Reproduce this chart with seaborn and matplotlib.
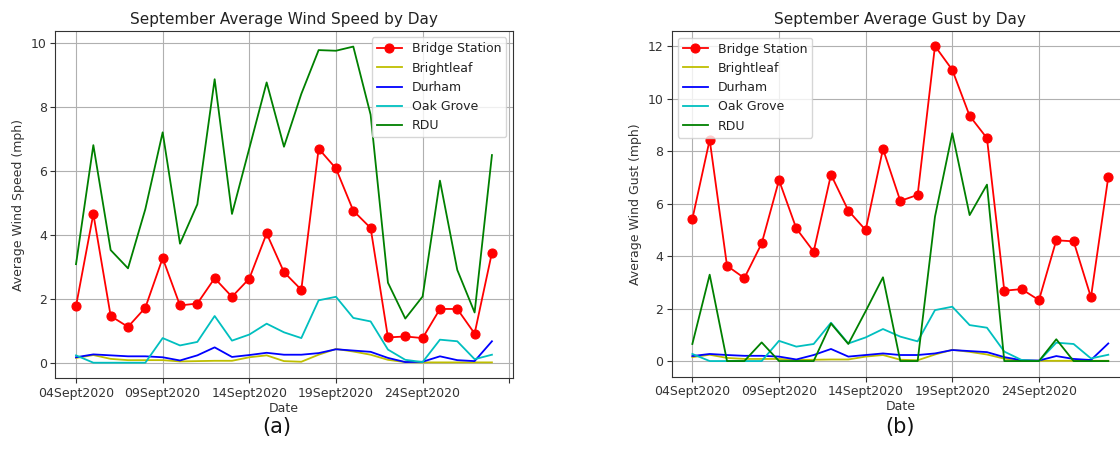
import numpy as np
import pandas as pd
import matplotlib
matplotlib.use("Agg")
import matplotlib.pyplot as plt
import seaborn as sns

# ---- data -------------------------------------------------------------
days = list(range(4, 29))  # 04 Sept .. 28 Sept 2020
dates = [f"{d:02d}Sept2020" for d in days]
tick_pos = [0, 5, 10, 15, 20, 25]
tick_labels = ["04Sept2020", "09Sept2020", "14Sept2020", "19Sept2020", "24Sept2020", ""]

stations = ["Bridge Station", "Brightleaf", "Durham", "Oak Grove", "RDU"]
colors = ["r", "y", "b", "c", "g"]

# (a) average wind speed (mph)
speed_bridge = [1.77, 4.65, 1.46, 1.12, 1.72, 3.27, 1.79, 1.85, 2.64, 2.06, 2.63, 4.04, 2.83,
                2.28, 6.69, 6.07, 4.75, 4.21, 0.79, 0.82, 0.77, 1.68, 1.68, 0.91, 3.44]
speed_brightleaf = [0.15, 0.24, 0.12, 0.08, 0.08, 0.08, 0.04, 0.05, 0.06, 0.06, 0.17, 0.23, 0.05,
                    0.03, 0.25, 0.43, 0.35, 0.25, 0.09, 0.02, 0.01, 0.01, 0.01, 0.01, 0.01]
speed_durham = [0.17, 0.26, 0.23, 0.20, 0.20, 0.17, 0.07, 0.23, 0.48, 0.18, 0.24, 0.31, 0.25,
                0.25, 0.30, 0.42, 0.38, 0.34, 0.15, 0.02, 0.03, 0.20, 0.08, 0.05, 0.67]
speed_oak = [0.23, 0.0, 0.0, 0.0, 0.0, 0.77, 0.54, 0.65, 1.46, 0.69, 0.88, 1.22, 0.95,
             0.77, 1.95, 2.06, 1.40, 1.29, 0.41, 0.09, 0.02, 0.72, 0.67, 0.11, 0.25]
speed_rdu = [3.08, 6.80, 3.52, 2.95, 4.80, 7.20, 3.72, 4.95, 8.86, 4.65, 6.70, 8.76, 6.75,
             8.40, 9.77, 9.75, 9.88, 7.75, 2.50, 1.38, 2.07, 5.69, 2.90, 1.57, 6.49]

# (b) average wind gust (mph)
gust_bridge = [5.41, 8.43, 3.63, 3.16, 4.48, 6.89, 5.05, 4.17, 7.10, 5.73, 4.99, 8.08, 6.10,
               6.33, 12.0, 11.09, 9.34, 8.49, 2.68, 2.74, 2.32, 4.60, 4.56, 2.43, 7.01]
gust_brightleaf = [0.15, 0.24, 0.12, 0.08, 0.08, 0.08, 0.04, 0.05, 0.06, 0.06, 0.17, 0.23, 0.05,
                   0.03, 0.25, 0.43, 0.35, 0.25, 0.09, 0.02, 0.01, 0.01, 0.01, 0.01, 0.01]
gust_durham = [0.19, 0.27, 0.23, 0.20, 0.20, 0.17, 0.06, 0.23, 0.46, 0.17, 0.23, 0.29, 0.23,
               0.23, 0.29, 0.42, 0.38, 0.34, 0.15, 0.03, 0.02, 0.19, 0.08, 0.04, 0.67]
gust_oak = [0.27, 0.0, 0.0, 0.0, 0.0, 0.77, 0.55, 0.65, 1.46, 0.67, 0.90, 1.22, 0.93,
            0.75, 1.94, 2.07, 1.37, 1.27, 0.36, 0.04, 0.0, 0.70, 0.65, 0.10, 0.24]
gust_rdu = [0.65, 3.29, 0.0, 0.0, 0.71, 0.0, 0.0, 0.0, 1.43, 0.65, 1.90, 3.19, 0.0,
            0.0, 5.50, 8.68, 5.56, 6.72, 0.0, 0.0, 0.0, 0.83, 0.0, 0.0, 0.0]

speed_series = [speed_bridge, speed_brightleaf, speed_durham, speed_oak, speed_rdu]
gust_series = [gust_bridge, gust_brightleaf, gust_durham, gust_oak, gust_rdu]

# ---- figure -----------------------------------------------------------
plt.rcParams['font.family'] = ['DejaVu Sans']
fig = plt.figure(figsize=(11.2, 4.66), dpi=100)
ax_a = fig.add_axes([0.0493, 0.188, 0.4085, 0.745])
ax_b = fig.add_axes([0.5996, 0.1914, 0.4085, 0.7414])

x = np.arange(len(dates))


def draw(ax, series, title, ylabel, legend_loc):
    for name, col, vals in zip(stations, colors, series):
        df = pd.DataFrame({"x": x, "y": vals})
        if name == "Bridge Station":
            sns.lineplot(data=df, x="x", y="y", ax=ax, color=col, label=name,
                         marker="o", markersize=6.5, markeredgecolor=col,
                         markeredgewidth=0.8, linewidth=1.3)
        else:
            sns.lineplot(data=df, x="x", y="y", ax=ax, color=col, label=name,
                         linewidth=1.3)
    ax.set_xticks(tick_pos)
    ax.set_xticklabels(tick_labels)
    ax.set_xlim(-1.2, 25.2)
    ax.grid(True, color="#b0b0b0", linewidth=0.8)
    ax.set_axisbelow(True)
    ax.set_title(title, fontsize=11, color="#222222", pad=5)
    ax.set_xlabel("Date", fontsize=9, color="#333333", labelpad=1.5)
    ax.set_ylabel(ylabel, fontsize=9, color="#333333")
    ax.tick_params(labelsize=9, colors="#333333", pad=2.5)
    for s in ax.spines.values():
        s.set_color("#333333")
    leg = ax.legend(loc=legend_loc, fontsize=9, handlelength=2.0)
    for t in leg.get_texts():
        t.set_color("#222222")


draw(ax_a, speed_series, "September Average Wind Speed by Day",
     "Average Wind Speed (mph)", "upper right")
draw(ax_b, gust_series, "September Average Gust by Day",
     "Average Wind Gust (mph)", "upper left")
ax_a.set_ylim(-0.49, 10.36)
ax_b.set_ylim(-0.6, 12.56)

fig.text(277 / 1120, 1 - 427 / 466, "(a)", ha="center", va="center", fontsize=15, color="#111111")
fig.text(900 / 1120, 1 - 427 / 466, "(b)", ha="center", va="center", fontsize=15, color="#111111")

fig.savefig("out.png", dpi=100)
